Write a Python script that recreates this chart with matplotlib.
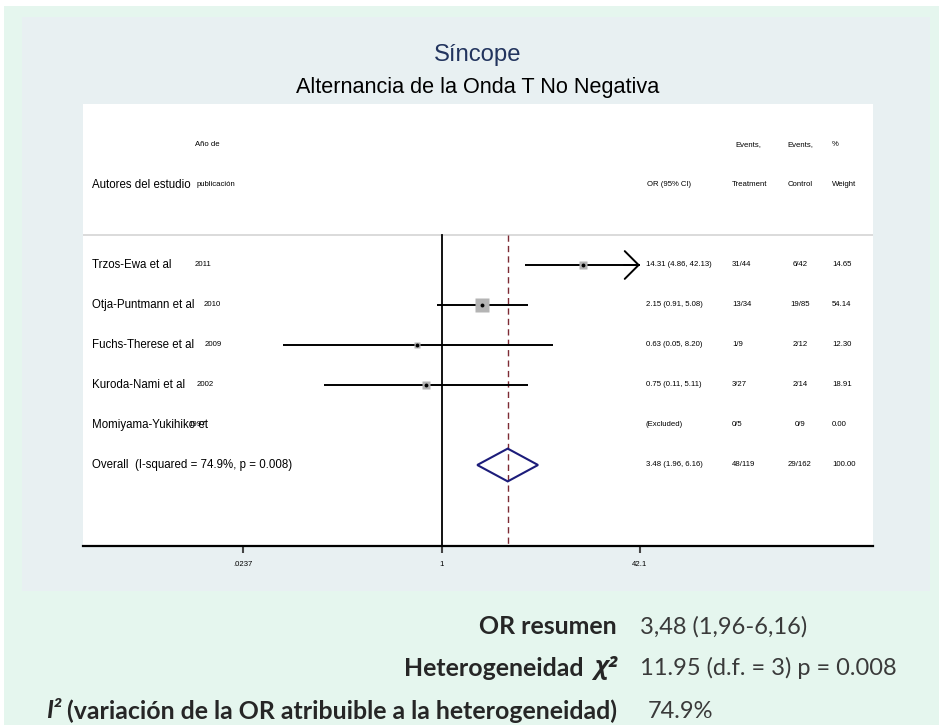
import numpy as np
import matplotlib
matplotlib.use("Agg")
import matplotlib.pyplot as plt
from matplotlib.patches import Rectangle, Polygon

# ---------------- data ----------------
studies = ["Trzos-Ewa et al", "Otja-Puntmann et al", "Fuchs-Therese et al",
           "Kuroda-Nami et al", "Momiyama-Yukihiko et"]
years = ["2011", "2010", "2009", "2002", "1997"]
or_est = [14.31, 2.15, 0.63, 0.75, None]
ci_lo = [4.86, 0.91, 0.05, 0.11, None]
ci_hi = [42.13, 5.08, 8.20, 5.11, None]
events_t = ["31/44", "13/34", "1/9", "3/27", "0/5"]
events_c = ["6/42", "19/85", "2/12", "2/14", "0/9"]
weights = [14.65, 54.14, 12.30, 18.91, 0.00]

overall_or = 3.48
overall_lo = 1.96
overall_hi = 6.16
overall_t = "48/119"
overall_c = "29/162"
overall_w = 100.00
i2 = 74.9
p_het = 0.008
chi2 = 11.95
df_het = 3

tick_values = [0.0237, 1, 42.1]
tick_labels = [".0237", "1", "42.1"]

title = "Síncope"
subtitle = "Alternancia de la Onda T No Negativa"

# ---------------- layout helpers ----------------
W, H = 939, 725
fig = plt.figure(figsize=(W / 100, H / 100), dpi=100, facecolor="white")

def fx(px):
    return px / W

def fy(py):
    return 1 - py / H

# backgrounds
fig.patches.append(Rectangle((fx(4), fy(725)), fx(939) - fx(4), fy(6) - fy(725),
                             transform=fig.transFigure, facecolor="#e5f6ee",
                             edgecolor="none", zorder=-10))
fig.patches.append(Rectangle((fx(22), fy(591)), fx(930) - fx(22), fy(17) - fy(591),
                             transform=fig.transFigure, facecolor="#e8f0f2",
                             edgecolor="none", zorder=-9))

# axes (white plot region)
ax_l, ax_r, ax_t, ax_b = 83, 873, 104, 546
ax = fig.add_axes([fx(ax_l), fy(ax_b), fx(ax_r) - fx(ax_l), fy(ax_t) - fy(ax_b)])
ax.set_facecolor("white")

# x scale: natural log of OR, linear in pixels
lt = np.log(tick_values)
px_lo, px_hi = 243, 640
k = (px_hi - px_lo) / (lt[-1] - lt[0])
x_one = px_lo - lt[0] * k

def px2x(p):
    return (p - x_one) / k

ax.set_xlim(px2x(ax_l), px2x(ax_r))
row_px0, row_step = 265, 40

def py2y(p):
    return (p - row_px0) / row_step

ax.set_ylim(py2y(ax_b), py2y(ax_t))

for s in ["top", "left", "right"]:
    ax.spines[s].set_visible(False)
ax.spines["bottom"].set_linewidth(1.6)
ax.spines["bottom"].set_color("black")
ax.set_yticks([])
ax.set_xticks(lt)
ax.set_xticklabels(tick_labels, fontsize=5.6, family="Liberation Sans")
ax.tick_params(axis="x", direction="out", length=5, width=1.5, color="#444444",
               pad=6)

base = "Liberation Sans"
big = 8.3
small = 5.6

# header
y_h1, y_h2 = py2y(145), py2y(185)
ax.text(px2x(92), y_h2, "Autores del estudio", fontsize=big, family=base, va="center")
ax.text(px2x(195), y_h1, "Año de", fontsize=small, family=base, va="center")
ax.text(px2x(197), y_h2, "publicación", fontsize=small, family=base, va="center")
ax.text(px2x(647), y_h2, "OR (95% CI)", fontsize=small, family=base, va="center")
ax.text(px2x(735), y_h1, "Events,", fontsize=small, family=base, va="center")
ax.text(px2x(732), y_h2, "Treatment", fontsize=small, family=base, va="center")
ax.text(px2x(800), y_h1, "Events,", fontsize=small, family=base, va="center", ha="center")
ax.text(px2x(800), y_h2, "Control", fontsize=small, family=base, va="center", ha="center")
ax.text(px2x(832), y_h1, "%", fontsize=small, family=base, va="center")
ax.text(px2x(832), y_h2, "Weight", fontsize=small, family=base, va="center")

# separator line
y_sep = py2y(235)
ax.plot([px2x(ax_l), px2x(ax_r)], [y_sep, y_sep], color="#d8d8d8", lw=1.3,
        solid_capstyle="butt", clip_on=False)

# null line and overall line
ax.plot([0, 0], [y_sep, py2y(ax_b)], color="black", lw=1.3, zorder=2)
ax.plot([np.log(overall_or)] * 2, [y_sep, py2y(ax_b)], color="#7d2a33", lw=1.0,
        dashes=(4.5, 3), zorder=2)

year_px = [195, 204, 205, 197, 188]
x_max = lt[-1]
x_min = lt[0]
max_w = max(weights)
for i, name in enumerate(studies):
    y = i
    ax.text(px2x(92), y, name, fontsize=big, family=base, va="center")
    ax.text(px2x(year_px[i]), y, years[i], fontsize=small, family=base, va="center")
    if or_est[i] is not None:
        lo, hi, est = np.log(ci_lo[i]), np.log(ci_hi[i]), np.log(or_est[i])
        hi_c = min(hi, x_max)
        lo_c = max(lo, x_min)
        ax.plot([lo_c, hi_c], [y, y], color="black", lw=1.4, zorder=3,
                solid_capstyle="butt")
        if hi > x_max:
            ax.annotate("", xy=(x_max, y), xytext=(hi_c - 0.3, y),
                        arrowprops=dict(arrowstyle="->,head_length=0.5,head_width=0.5",
                                        color="black", lw=1.4, mutation_scale=20,
                                        shrinkA=0, shrinkB=0), zorder=3)
        side = 10.3 * np.sqrt(weights[i] / max_w)
        ax.plot(est, y, marker="s", ms=side, color="#b4b4b4", mec="none", zorder=4)
        ax.plot(est, y, marker="o", ms=2.8, color="black", mec="none", zorder=5)
        ci_txt = f"{or_est[i]:.2f} ({ci_lo[i]:.2f}, {ci_hi[i]:.2f})"
    else:
        ci_txt = "(Excluded)"
    ax.text(px2x(646), y, ci_txt, fontsize=small, family=base, va="center")
    ax.text(px2x(732), y, events_t[i], fontsize=small, family=base, va="center")
    ax.text(px2x(800), y, events_c[i], fontsize=small, family=base, va="center", ha="center")
    ax.text(px2x(832), y, f"{weights[i]:.2f}", fontsize=small, family=base, va="center")

# overall row
yo = len(studies)
ax.text(px2x(92), yo, f"Overall  (I-squared = {i2:.1f}%, p = {p_het:.3f})",
        fontsize=big, family=base, va="center")
lo, hi, est = np.log(overall_lo), np.log(overall_hi), np.log(overall_or)
dh = 0.41
ax.add_patch(Polygon([[lo, yo], [est, yo - dh], [hi, yo], [est, yo + dh]],
                     closed=True, fill=False, edgecolor="#1c1c7a", lw=1.5, zorder=4))
ax.text(px2x(646), yo, f"{overall_or:.2f} ({overall_lo:.2f}, {overall_hi:.2f})",
        fontsize=small, family=base, va="center")
ax.text(px2x(732), yo, overall_t, fontsize=small, family=base, va="center")
ax.text(px2x(800), yo, overall_c, fontsize=small, family=base, va="center", ha="center")
ax.text(px2x(832), yo, f"{overall_w:.2f}", fontsize=small, family=base, va="center")

# titles
fig.text(fx(478), fy(55), title, fontsize=17.2, family=base, color="#22345e",
         ha="center", va="center")
fig.text(fx(478), fy(88), subtitle, fontsize=15.6, family=base, color="black",
         ha="center", va="center")

# bottom summary text
bfam = ["Lato", "Open Sans", "DejaVu Sans"]
bsize = 17
lsize = 17.9
lab_col = "#262626"
val_col = "#3a3a3a"
rx = fx(617)
vx = fx(640)

def fmt_es(v):
    return f"{v:.2f}".replace(".", ",")

fig.text(rx, fy(627), "OR resumen", fontsize=lsize, family=bfam, weight="bold",
         color=lab_col, ha="right", va="center")
fig.text(vx, fy(627), f"{fmt_es(overall_or)} ({fmt_es(overall_lo)}-{fmt_es(overall_hi)})",
         fontsize=bsize, family=bfam, color=val_col, ha="left", va="center")

fig.canvas.draw()
r = fig.canvas.get_renderer()

t_chi = fig.text(rx, fy(668), "χ²", fontsize=lsize, family=["Open Sans", "DejaVu Sans"],
                 weight="bold", style="italic", color=lab_col, ha="right", va="center")
bb = t_chi.get_window_extent(r)
fig.text((bb.x0 - 10) / W, fy(668), "Heterogeneidad", fontsize=lsize, family=bfam,
         weight="bold", color=lab_col, ha="right", va="center")
fig.text(vx, fy(668), f"{chi2:.2f} (d.f. = {df_het}) p = {p_het:.3f}",
         fontsize=bsize, family=bfam, color=val_col, ha="left", va="center")

t_rest = fig.text(rx, fy(711), " (variación de la OR atribuible a la heterogeneidad)",
                  fontsize=lsize, family=bfam, weight="bold", color=lab_col,
                  ha="right", va="center")
bb = t_rest.get_window_extent(r)
fig.text(bb.x0 / W, fy(711), "I²", fontsize=lsize, family=bfam, weight="bold",
         style="italic", color=lab_col, ha="right", va="center")
fig.text(fx(648), fy(711), f"{i2:.1f}%", fontsize=bsize, family=bfam, color=val_col,
         ha="left", va="center")

fig.savefig("out.png", dpi=100, facecolor="white")
